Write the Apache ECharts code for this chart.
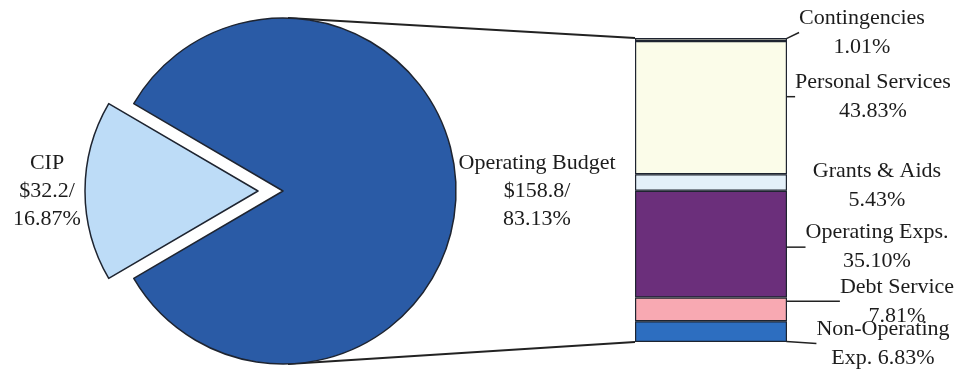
<!DOCTYPE html>
<html>
<head>
<meta charset="utf-8">
<script src="https://cdn.jsdelivr.net/npm/echarts@6/dist/echarts.min.js"></script>
<style>
  html, body { margin: 0; padding: 0; background: #ffffff; }
  #main { width: 971px; height: 374px; }
</style>
</head>
<body>
<div id="main"></div>
<script>
// Total budget split ($ millions and share of total)
const budgetNames = ['CIP', 'Operating Budget'];
const budgetAmounts = [32.2, 158.8];
const budgetShares = [16.87, 83.13];

// Operating budget breakdown, listed top to bottom in the column
const opNameLines = ['Contingencies\n', 'Personal Services\n', 'Grants & Aids\n', 'Operating Exps.\n', 'Debt Service\n', 'Non-Operating\nExp. '];
const opShares = [1.01, 43.83, 5.43, 35.10, 7.81, 6.83];

// Styling
const FONT = '"Liberation Serif", "Times New Roman", serif';
const TEXT = '#1c1c1c';
const EDGE = '#1e2430';
const budgetColors = ['#bddcf7', '#2a5ba6'];
const opColors = ['#fafbe4', '#fbfce9', '#e4f0f9', '#6b2f7b', '#f8a9b2', '#2d6ec0'];
// label displacement (dx, dy) and whether a leader line is drawn
const opLabelShift = [[70, -7], [81, -11], [85, 3], [85, 3], [105, -8], [91, 12]];
const opLeader = [true, true, false, true, true, true];

const PIE_CENTER = [283, 191];
const PIE_R = 173;
const GRID = { left: 635, right: 184, top: 38, bottom: 32 };

const opTotal = opShares.reduce((a, b) => a + b, 0);
const pieStart = 180 + budgetShares[0] * 3.6 / 2;

function pieLabel(i, width) {
  const lines = [
    budgetNames[i],
    '$' + budgetAmounts[i].toFixed(1) + '/',
    budgetShares[i].toFixed(2) + '%'
  ];
  return {
    formatter: lines.map(l => '{c|' + l + '}').join('\n'),
    distanceToLabelLine: 0,
    rich: { c: { width: width, align: 'center', fontFamily: FONT, fontSize: 22, lineHeight: 28, color: TEXT } }
  };
}

const pieData = budgetNames.map((name, i) => ({
  name: name,
  value: budgetShares[i],
  selected: i === 0,
  itemStyle: { color: budgetColors[i] },
  select: { itemStyle: { color: budgetColors[i], borderColor: EDGE, borderWidth: 1.5 } },
  label: pieLabel(i, i === 0 ? 74 : 160)
}));

const barSeries = opShares.map((v, i) => ({
  type: 'bar',
  name: opNameLines[i],
  stack: 'ops',
  data: [v],
  barWidth: '100%',
  silent: true,
  itemStyle: { color: opColors[i], borderColor: EDGE, borderWidth: 1.2 },
  label: {
    show: true,
    position: 'right',
    distance: 5,
    align: 'center',
    fontFamily: FONT,
    fontSize: 22,
    lineHeight: 29,
    color: TEXT,
    formatter: opNameLines[i] + v.toFixed(2) + '%'
  },
  labelLine: { show: opLeader[i], lineStyle: { color: '#222', width: 1.5 } },
  labelLayout: { dx: opLabelShift[i][0], dy: opLabelShift[i][1] }
}));

const option = {
  animation: false,
  backgroundColor: '#ffffff',
  grid: GRID,
  xAxis: { type: 'category', data: ['Operating Budget'], show: false },
  yAxis: { type: 'value', min: 0, max: opTotal, inverse: true, show: false },
  series: [
    {
      type: 'pie',
      center: PIE_CENTER,
      radius: PIE_R,
      startAngle: pieStart,
      clockwise: true,
      selectedMode: 'single',
      selectedOffset: 25,
      avoidLabelOverlap: false,
      silent: true,
      z: 3,
      itemStyle: { borderColor: EDGE, borderWidth: 1.5 },
      label: { show: true, position: 'outside' },
      labelLine: { show: false, length: 1, length2: 0 },
      emphasis: { disabled: true },
      data: pieData
    }
  ].concat(barSeries)
};

const chart = echarts.init(document.getElementById('main'), null, { renderer: 'canvas' });
chart.setOption(option);

// Connector lines from the top and bottom of the pie to the column corners
const colTop = chart.convertToPixel({ yAxisIndex: 0 }, 0);
const colBottom = chart.convertToPixel({ yAxisIndex: 0 }, opTotal);
const colLeft = GRID.left;
chart.setOption({
  graphic: [
    { type: 'line', z: 1, silent: true,
      shape: { x1: PIE_CENTER[0] + 5, y1: PIE_CENTER[1] - PIE_R, x2: colLeft, y2: colTop },
      style: { stroke: '#222', lineWidth: 2 } },
    { type: 'line', z: 1, silent: true,
      shape: { x1: PIE_CENTER[0] + 5, y1: PIE_CENTER[1] + PIE_R, x2: colLeft, y2: colBottom },
      style: { stroke: '#222', lineWidth: 2 } }
  ]
});
</script>
</body>
</html>
